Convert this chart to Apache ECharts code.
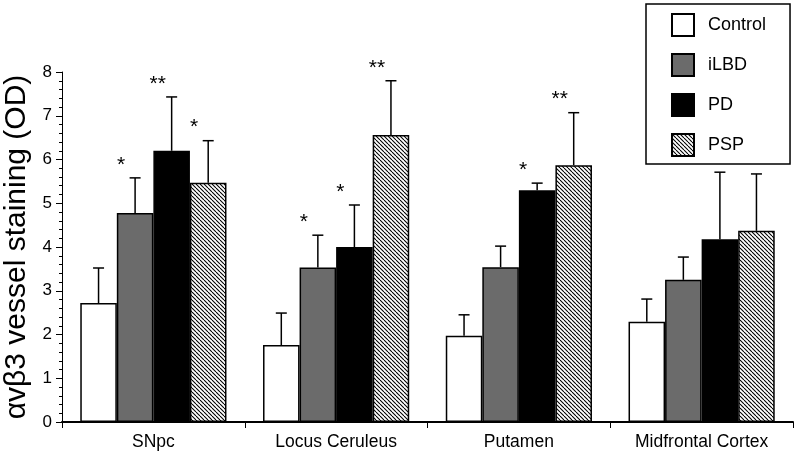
<!DOCTYPE html>
<html><head><meta charset="utf-8">
<script src="https://cdn.jsdelivr.net/npm/echarts@6/dist/echarts.min.js"></script>
<style>html,body{margin:0;padding:0;background:#fff}#c{width:800px;height:457px}</style>
</head><body><div id="c"></div>
<script>
const categories = ['SNpc', 'Locus Ceruleus', 'Putamen', 'Midfrontal Cortex'];
const groupNames = ['Control', 'iLBD', 'PD', 'PSP'];
const yTicks = [0, 1, 2, 3, 4, 5, 6, 7, 8];
// mean values
const controlMean = [2.72, 1.76, 1.97, 2.29];
const ilbdMean    = [4.78, 3.53, 3.54, 3.25];
const pdMean      = [6.20, 4.00, 5.30, 4.18];
const pspMean     = [5.47, 6.56, 5.87, 4.37];
// error (upper, SEM)
const controlErr = [0.80, 0.73, 0.48, 0.52];
const ilbdErr    = [0.80, 0.74, 0.48, 0.52];
const pdErr      = [1.23, 0.96, 0.16, 1.53];
const pspErr     = [0.96, 1.24, 1.20, 1.30];
// significance marks
const controlSig = ['', '', '', ''];
const ilbdSig    = ['*', '*', '', ''];
const pdSig      = ['**', '*', '*', ''];
const pspSig     = ['*', '**', '**', ''];

const means = [controlMean, ilbdMean, pdMean, pspMean];
const errs = [controlErr, ilbdErr, pdErr, pspErr];
const sigs = [controlSig, ilbdSig, pdSig, pspSig];

// hatch pattern
const pc = document.createElement('canvas');
const S = 4;
pc.width = S; pc.height = S;
const g = pc.getContext('2d');
g.fillStyle = '#fff'; g.fillRect(0, 0, S, S);
g.strokeStyle = '#000'; g.lineWidth = 1.1;
for (let k = -S; k <= S; k += S) { g.beginPath(); g.moveTo(k, 0); g.lineTo(k + S, S); g.stroke(); }
const hatch = { image: pc, repeat: 'repeat' };

const fills = ['#ffffff', '#6b6b6b', '#000000', hatch];
const FONT = 'Liberation Sans, Arial, Helvetica, sans-serif';
const CAT_GAP = 0.2;

const errData = [];
for (let s = 0; s < 4; s++) for (let c = 0; c < 4; c++) errData.push([c, s, means[s][c], errs[s][c], sigs[s][c]]);

const series = groupNames.map((n, s) => ({
  name: n, type: 'bar', data: means[s], barGap: '0%', barCategoryGap: '20%',
  itemStyle: { color: fills[s], borderColor: '#000', borderWidth: 1.5 }
}));
series.push({
  type: 'custom', z: 5, data: errData, silent: true,
  renderItem: function (params, api) {
    const c = api.value(0), s = api.value(1), m = api.value(2), e = api.value(3);
    const sig = errData[params.dataIndex][4];
    const catW = api.size([1, 0])[0];
    const groupW = catW * (1 - CAT_GAP);
    const barW = groupW / 4;
    const base = api.coord([c, m]);
    const top = api.coord([c, m + e]);
    const x = base[0] - groupW / 2 + barW * (s + 0.5);
    const st = { stroke: '#000', lineWidth: 1.5 };
    const children = [
      { type: 'line', shape: { x1: x, y1: base[1], x2: x, y2: top[1] }, style: st },
      { type: 'line', shape: { x1: x - 5.5, y1: top[1], x2: x + 5.5, y2: top[1] }, style: st }
    ];
    if (sig) children.push({ type: 'text', style: { text: sig, x: x - 14, y: top[1] - 13, align: 'center', verticalAlign: 'middle', font: '21px ' + FONT, fill: '#000' } });
    return { type: 'group', children: children };
  }
});

const chart = echarts.init(document.getElementById('c'), null, { renderer: 'canvas' });
chart.setOption({
  animation: false,
  backgroundColor: '#fff',
  textStyle: { fontFamily: FONT, color: '#000' },
  grid: { left: 62, right: 7, top: 72, bottom: 35, containLabel: false, outerBoundsMode: 'none' },
  legend: {
    data: groupNames, orient: 'vertical', left: 646, top: 4,
    icon: 'rect', itemWidth: 22, itemHeight: 22, itemGap: 16,
    borderColor: '#000', borderWidth: 1.5, padding: [9, 24, 7, 25],
    textStyle: { fontSize: 18, color: '#000', fontFamily: FONT, padding: [0, 0, 0, 9] }
  },
  xAxis: {
    type: 'category', data: categories,
    axisLine: { lineStyle: { color: '#000', width: 2 } },
    axisTick: { show: true, length: 6, lineStyle: { color: '#000' } },
    axisLabel: { fontSize: 17.5, color: '#000', margin: 11, fontFamily: FONT }
  },
  yAxis: {
    type: 'value', min: yTicks[0], max: yTicks[yTicks.length - 1], interval: 1,
    name: 'αvβ3 vessel staining (OD)', nameLocation: 'middle', nameGap: 27,
    nameTextStyle: { fontSize: 30, color: '#000', fontFamily: FONT },
    splitLine: { show: false },
    axisLine: { show: true, lineStyle: { color: '#000', width: 1 } },
    axisTick: { show: true, length: 6, lineStyle: { color: '#000' } },
    minorTick: { show: true, splitNumber: 5, length: 3, lineStyle: { color: '#000' } },
    axisLabel: { fontSize: 17, color: '#000', margin: 10, fontFamily: FONT }
  },
  series: series
});
</script></body></html>
